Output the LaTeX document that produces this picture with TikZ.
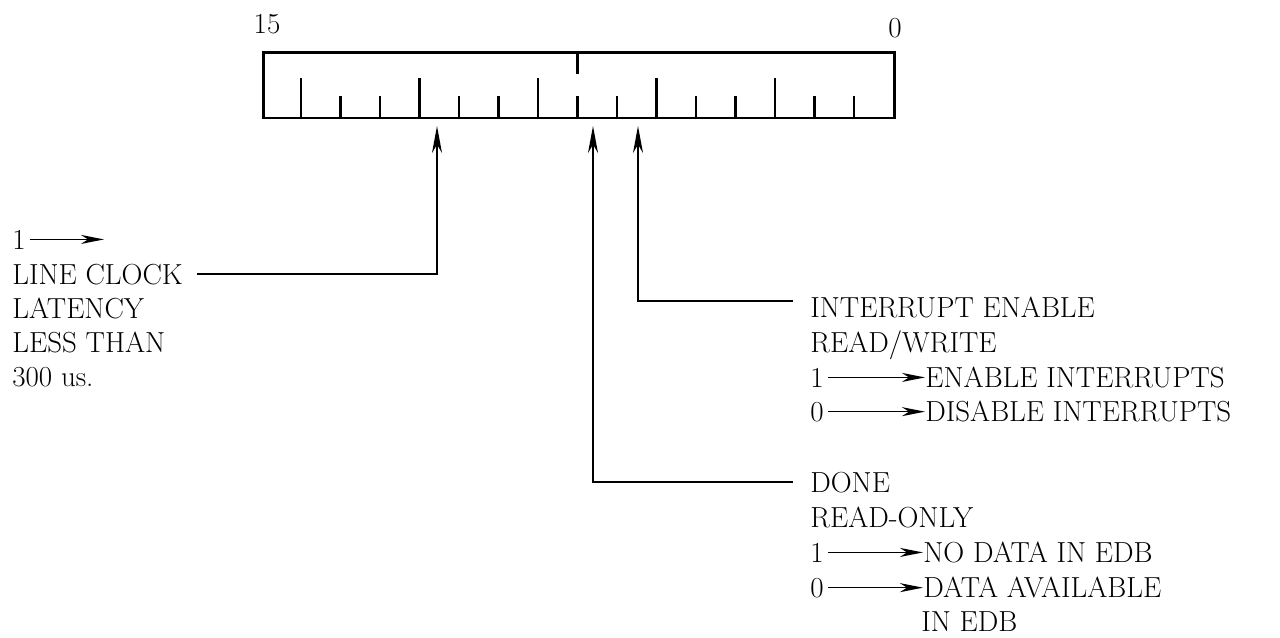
\documentclass[tikz,border=0pt]{standalone}
\usepackage{fontspec}
\usetikzlibrary{positioning, calc, arrows.meta}

\newcommand\csrfont{\fontsize{16.5}{20}\selectfont}

\begin{document}
\begin{tikzpicture}[
    x=0.02cm, y=-0.02cm,
    register/.style={draw=black, line width=1.7pt, minimum width=12.64cm, minimum height=1.32cm, inner sep=0pt},
    bit tick/.style={draw=black, line width=1.5pt},
    field text/.style={anchor=base west, inner sep=0pt, font=\csrfont},
    pointer/.style={draw=black, line width=1.1pt, -{Stealth[length=5.4mm, width=2mm, inset=1.7mm]}},
    value arrow/.style={draw=black, line width=0.9pt, -{Stealth[length=4.6mm, width=1.8mm, inset=1.4mm]}, shorten <=2pt}
]
\useasboundingbox (0,0) rectangle (1280,637);

% --- CSR outline, bit 15 on the left ---
\node[register] (csr) at (579,85) {};
\node[font=\csrfont, anchor=base, inner sep=0pt] (b15) at (267,33) {15};
\node[font=\csrfont, anchor=base, inner sep=0pt] (b0) at (895,37) {0};

% --- bit dividers, long ones mark the octal digits ---
\foreach \k in {1,...,15} {
    \pgfmathsetmacro\len{mod(\k,3)==1 ? 41 : 23}
    \draw[bit tick] ($(csr.south west)+(39.5*\k,0)$) -- ++(0,-\len);
}
\draw[bit tick] ($(csr.north west)+(39.5*8,0)$) -- ++(0,23);

% --- arrow targets under bits 11, 7 and 6 ---
\coordinate (bit11) at (437,126);
\coordinate (bit7) at (593,126);
\coordinate (bit6) at (638,126);

% --- bit 11: line clock ---
\node[field text] (lcone) at (12,249) {1};
\coordinate (lcend) at ($(lcone.east)+(78,0)$);
\draw[value arrow] (lcone.east) -- (lcend);
\node[field text] (lclk) at (12,284) {LINE CLOCK};
\foreach \i/\txt in {1/LATENCY, 2/LESS THAN, 3/300 us.} {
    \node[field text] (lclk\i) at (12,284+34*\i) {\txt};
}
\draw[pointer] ([xshift=0.28cm]lclk.east) -| (bit11);

% --- bit 6: interrupt enable ---
\node[field text] (ie) at (810,317) {INTERRUPT ENABLE};
\node[field text] (ierw) at (810,352) {READ/WRITE};
\node[field text] (ieone) at (810,387) {1};
\node[field text] (ieon) at (925,387) {ENABLE INTERRUPTS};
\node[field text] (iezero) at (810,421) {0};
\node[field text] (ieoff) at (925,421) {DISABLE INTERRUPTS};
\draw[value arrow] (ieone.east) -- (ieone.east -| ieon.west);
\draw[value arrow] (iezero.east) -- (iezero.east -| ieoff.west);
\draw[pointer] ([xshift=-0.34cm, yshift=0.12cm]ie.west) -| (bit6);

% --- bit 7: done ---
\node[field text] (done) at (810,492) {DONE};
\node[field text] (donero) at (810,527) {READ-ONLY};
\node[field text] (doneone) at (810,562) {1};
\node[field text] (doneno) at (923,562) {NO DATA IN EDB};
\node[field text] (donezero) at (810,597) {0};
\node[field text] (doneav) at (923,597) {DATA AVAILABLE};
\node[field text] (doneav2) at (921,631) {IN EDB};
\draw[value arrow] (doneone.east) -- (doneone.east -| doneno.west);
\draw[value arrow] (donezero.east) -- (donezero.east -| doneav.west);
\draw[pointer] ([xshift=-0.34cm]done.west) -| (bit7);

\end{tikzpicture}
\end{document}
